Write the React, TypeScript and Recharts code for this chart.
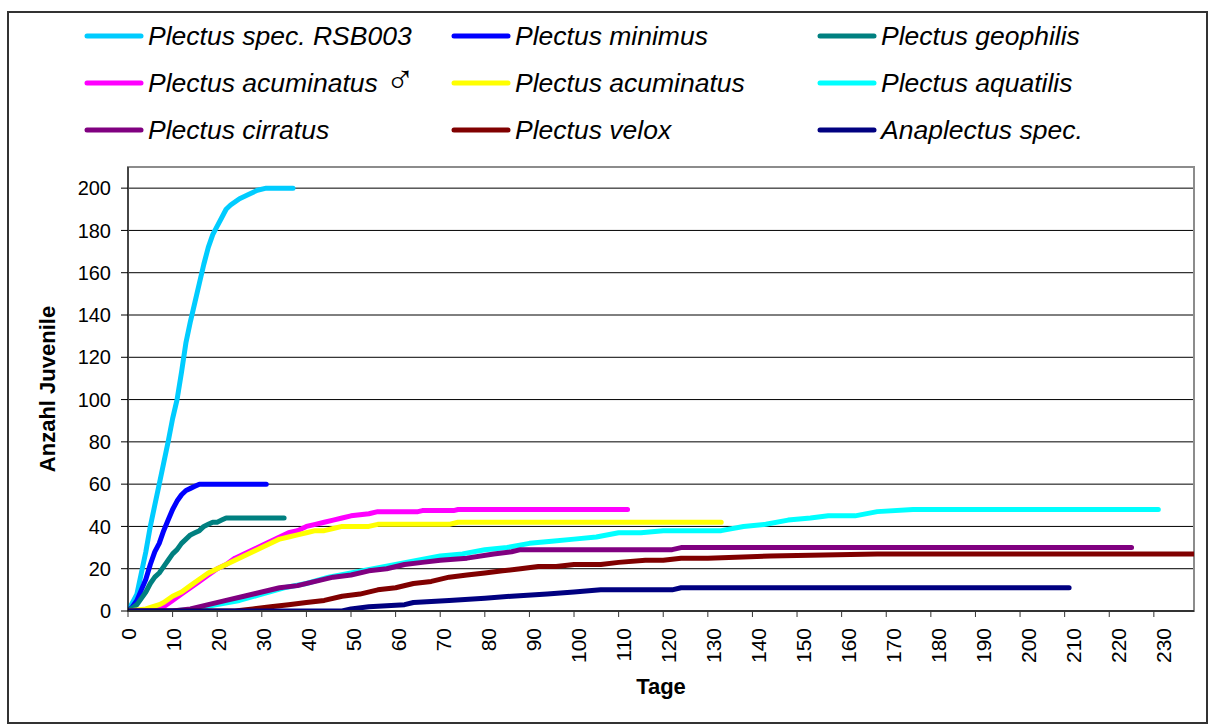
import React from 'react';
import { LineChart, Line, XAxis, YAxis, CartesianGrid, ReferenceArea } from 'recharts';

const FONT = '"Liberation Sans", Arial, Helvetica, sans-serif';

// axis ticks
const dayTicks = [0, 10, 20, 30, 40, 50, 60, 70, 80, 90, 100, 110, 120, 130, 140, 150, 160, 170, 180, 190, 200, 210, 220, 230];
const countTicks = [0, 20, 40, 60, 80, 100, 120, 140, 160, 180, 200];

// [day, cumulative juveniles]
const rsb003 = [[0, 0], [2, 8], [4, 28], [5, 40], [6, 50], [7, 60], [8, 70], [9, 80], [10, 91], [11, 100], [12, 113], [13, 127], [14, 137], [15, 146], [16, 155], [17, 164], [18, 172], [19, 178], [20, 182], [21, 186], [22, 190], [23, 192], [25, 195], [27, 197], [29, 199], [31, 200], [37, 200]];
const minimus = [[0, 0], [1, 2], [2, 5], [3, 10], [4, 15], [5, 22], [6, 28], [7, 32], [8, 38], [9, 43], [10, 48], [11, 52], [12, 55], [13, 57], [14, 58], [15, 59], [16, 60], [31, 60]];
const geophilis = [[0, 0], [2, 3], [3, 6], [4, 9], [5, 13], [6, 16], [7, 18], [8, 21], [9, 24], [10, 27], [11, 29], [12, 32], [13, 34], [14, 36], [15, 37], [16, 38], [17, 40], [18, 41], [19, 42], [20, 42], [21, 43], [22, 44], [35, 44]];
const acuminatusM = [[0, 0], [4, 0], [8, 2], [10, 5], [12, 8], [14, 11], [16, 14], [18, 17], [20, 20], [22, 22], [24, 25], [26, 27], [28, 29], [30, 31], [32, 33], [34, 35], [36, 37], [38, 38], [40, 40], [42, 41], [44, 42], [46, 43], [48, 44], [50, 45], [54, 46], [56, 47], [65, 47], [66, 47.5], [73, 47.5], [74, 48], [112, 48]];
const acuminatus = [[0, 0], [4, 1], [7, 3], [8, 4], [10, 7], [12, 9], [14, 12], [16, 15], [18, 18], [20, 20], [22, 22], [24, 24], [26, 26], [28, 28], [30, 30], [32, 32], [34, 34], [36, 35], [38, 36], [40, 37], [42, 38], [44, 38], [46, 39], [48, 40], [54, 40], [56, 41], [72, 41], [74, 42], [133, 42]];
const aquatilis = [[0, 0], [10, 0], [15, 1], [20, 3], [25, 5], [30, 8], [35, 11], [40, 13], [45, 16], [50, 18], [55, 20], [60, 22], [65, 24], [70, 26], [75, 27], [80, 29], [85, 30], [90, 32], [95, 33], [100, 34], [105, 35], [110, 37], [115, 37], [120, 38], [133, 38], [138, 40], [143, 41], [148, 43], [153, 44], [157, 45], [163, 45], [168, 47], [176, 48], [231, 48]];
const cirratus = [[0, 0], [10, 0], [14, 1], [18, 3], [22, 5], [26, 7], [30, 9], [34, 11], [38, 12], [42, 14], [46, 16], [50, 17], [54, 19], [58, 20], [62, 22], [66, 23], [70, 24], [76, 25], [82, 27], [86, 28], [88, 29], [94, 29], [122, 29], [124, 30], [225, 30]];
const velox = [[0, 0], [24, 0], [28, 1], [32, 2], [36, 3], [40, 4], [44, 5], [48, 7], [52, 8], [56, 10], [60, 11], [64, 13], [68, 14], [72, 16], [76, 17], [80, 18], [84, 19], [88, 20], [92, 21], [96, 21], [100, 22], [106, 22], [110, 23], [116, 24], [120, 24], [124, 25], [130, 25], [144, 26], [168, 27], [239, 27]];
const anaplectus = [[0, 0], [48, 0], [50, 1], [54, 2], [62, 3], [64, 4], [72, 5], [80, 6], [86, 7], [94, 8], [100, 9], [106, 10], [122, 10], [124, 11], [211, 11]];

const series = [
  { name: 'Plectus spec. RSB003', color: '#00CCFF', points: rsb003 },
  { name: 'Plectus minimus', color: '#0000FF', points: minimus },
  { name: 'Plectus geophilis', color: '#008080', points: geophilis },
  { name: 'Plectus acuminatus \u2642', color: '#FF00FF', points: acuminatusM },
  { name: 'Plectus acuminatus', color: '#FFFF00', points: acuminatus },
  { name: 'Plectus aquatilis', color: '#00FFFF', points: aquatilis },
  { name: 'Plectus cirratus', color: '#800080', points: cirratus },
  { name: 'Plectus velox', color: '#800000', points: velox },
  { name: 'Anaplectus spec.', color: '#000080', points: anaplectus },
];

const DayTick = (props: any) => {
  const { x, y, payload } = props;
  const dx = payload.value * 0.04;
  return (
    <text
      transform={`translate(${x + dx + 7.5},${y + 11}) rotate(-90)`}
      textAnchor="end"
      fontSize={21}
      fontFamily={FONT}
      fill="#000"
    >
      {payload.value}
    </text>
  );
};

// the male sign is drawn in another font in the original, upright and larger
const LegendLabel = ({ x, y, name }: { x: number; y: number; name: string }) => {
  const male = name.endsWith('\u2642');
  const base = male ? name.slice(0, -1) : name;
  return (
    <text x={x} y={y} fontSize={26.5} fontStyle="italic" fontFamily={FONT} fill="#000">
      {base}
      {male && (
        <tspan fontFamily='"DejaVu Sans", sans-serif' fontStyle="normal" fontSize={40} fontWeight={200} dy={1}>
          {'\u2642'}
        </tspan>
      )}
    </text>
  );
};

const ChartLegend = () => {
  const colX = [85, 452, 818];
  const rowY = [36, 83, 130];
  return (
    <svg width={1208} height={160} style={{ position: 'absolute', left: 0, top: 0 }}>
      {series.map((s, i) => {
        const x = colX[i % 3];
        const y = rowY[Math.floor(i / 3)];
        return (
          <g key={s.name}>
            <line x1={x + 2} y1={y} x2={x + 56} y2={y} stroke={s.color} strokeWidth={5} strokeLinecap="round" />
            <LegendLabel x={x + 63} y={y + 8.5} name={s.name} />
          </g>
        );
      })}
    </svg>
  );
};

export default function App() {
  return (
    <div style={{ position: 'absolute', left: 0, top: 0, width: 1208, height: 726, background: '#fff' }}>
      <LineChart width={1208} height={726} margin={{ top: 167, right: 14, bottom: 0, left: 0 }}>
        <CartesianGrid vertical={false} stroke="#000" strokeWidth={1} />
        <ReferenceArea x1={0} x2={239} y1={0} y2={210} fill="none" stroke="#8c8c8c" strokeWidth={2} />
        <XAxis
          dataKey="day"
          type="number"
          domain={[0, 239]}
          ticks={dayTicks}
          interval={0}
          height={115}
          tickSize={6}
          tickMargin={0}
          axisLine={{ stroke: '#333', strokeWidth: 2 }}
          tickLine={{ stroke: '#333' }}
          tick={<DayTick />}
          allowDataOverflow
          label={{
            content: () => (
              <text x={661} y={694} textAnchor="middle" fontSize={22} fontWeight="bold" fontFamily={FONT} fill="#000">
                Tage
              </text>
            ),
          }}
        />
        <YAxis
          type="number"
          domain={[0, 210]}
          ticks={countTicks}
          interval={0}
          width={128}
          tickSize={7}
          tickMargin={10}
          axisLine={{ stroke: '#000' }}
          tickLine={{ stroke: '#000' }}
          tick={{ fontSize: 20, fill: '#000', fontFamily: FONT }}
          allowDataOverflow
          label={{
            content: () => (
              <text
                transform="translate(55,389) rotate(-90)"
                textAnchor="middle"
                fontSize={22}
                fontWeight="bold"
                fontFamily={FONT}
                fill="#000"
              >
                Anzahl Juvenile
              </text>
            ),
          }}
        />
        {series.map((s) => (
          <Line
            key={s.name}
            data={s.points.map(([day, n]) => ({ day, n }))}
            dataKey="n"
            name={s.name}
            type="linear"
            stroke={s.color}
            strokeWidth={5}
            strokeLinecap="round"
            strokeLinejoin="round"
            dot={false}
            activeDot={false}
            isAnimationActive={false}
          />
        ))}
      </LineChart>
      <ChartLegend />
      <div
        style={{
          position: 'absolute',
          left: 7,
          top: 11,
          width: 1197,
          height: 709,
          border: '2px solid #333',
          pointerEvents: 'none',
        }}
      />
    </div>
  );
}
